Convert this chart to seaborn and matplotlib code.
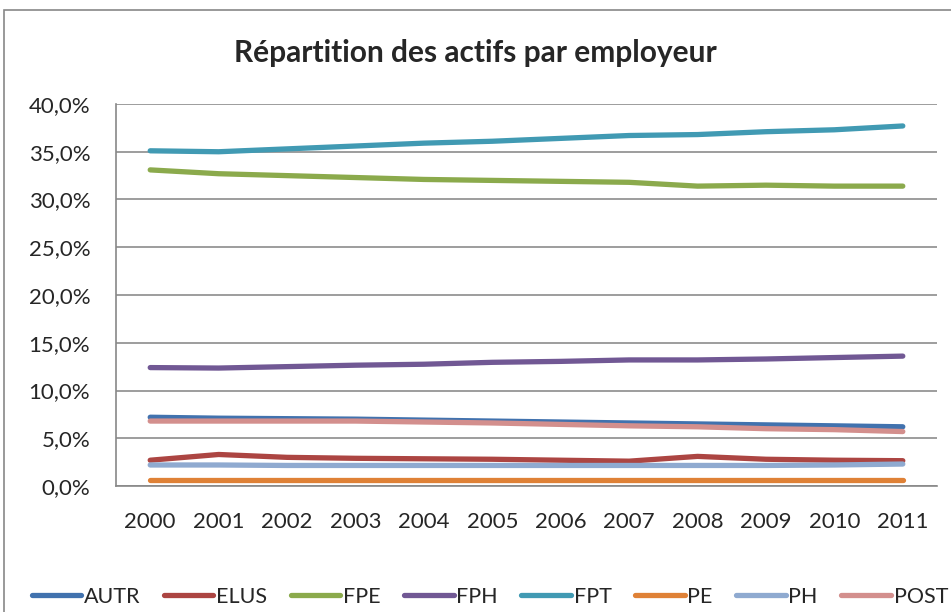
import pandas as pd
import matplotlib.pyplot as plt
import seaborn as sns
from matplotlib.ticker import FuncFormatter, FixedLocator
from matplotlib.patches import Rectangle

# data (share of active workers, %)
years = [2000, 2001, 2002, 2003, 2004, 2005, 2006, 2007, 2008, 2009, 2010, 2011]
autr = [7.2, 7.1, 7.05, 7.0, 6.9, 6.8, 6.7, 6.6, 6.5, 6.4, 6.3, 6.2]
elus = [2.7, 3.3, 3.0, 2.9, 2.85, 2.8, 2.7, 2.6, 3.1, 2.8, 2.7, 2.65]
fpe = [33.1, 32.7, 32.5, 32.3, 32.1, 32.0, 31.9, 31.8, 31.4, 31.5, 31.4, 31.4]
fph = [12.4, 12.35, 12.5, 12.65, 12.75, 12.95, 13.05, 13.2, 13.2, 13.3, 13.45, 13.6]
fpt = [35.1, 35.0, 35.3, 35.6, 35.9, 36.1, 36.4, 36.7, 36.8, 37.1, 37.3, 37.7]
pe = [0.6] * 12
ph = [2.2, 2.2, 2.15, 2.15, 2.15, 2.15, 2.15, 2.15, 2.15, 2.15, 2.2, 2.3]
post = [6.8, 6.8, 6.8, 6.8, 6.7, 6.6, 6.45, 6.3, 6.2, 6.0, 5.9, 5.7]

series = {"AUTR": autr, "ELUS": elus, "FPE": fpe, "FPH": fph,
          "FPT": fpt, "PE": pe, "PH": ph, "POST": post}
colors = {"AUTR": "#4172AE", "ELUS": "#AC4542", "FPE": "#8BAA4C", "FPH": "#715894",
          "FPT": "#419AB3", "PE": "#DF8136", "PH": "#8FAAD0", "POST": "#D38F8D"}

rows = []
for name, vals in series.items():
    for i, v in enumerate(vals):
        rows.append({"pos": i, "year": years[i], "emp": name, "val": v / 100})
df = pd.DataFrame(rows)

sns.set_style("white")
plt.rcParams["font.family"] = ["Lato", "DejaVu Sans"]

fig = plt.figure(figsize=(9.51, 6.12), dpi=100)
ax = fig.add_axes([116 / 951, 1 - 486 / 612, (937 - 116) / 951, (486 - 104) / 612])

sns.lineplot(data=df, x="pos", y="val", hue="emp", palette=colors, ax=ax,
             linewidth=3.8, solid_capstyle="round", legend=False)

ax.set_xlim(-0.5, 11.5)
ax.set_ylim(0, 0.4)
ax.set_yticks([i * 0.05 for i in range(9)])
ax.yaxis.set_major_formatter(FuncFormatter(lambda v, p: f"{v * 100:.1f}%".replace(".", ",")))
ax.set_xticks(range(12))
ax.set_xticklabels([str(y) for y in years])
ax.xaxis.set_minor_locator(FixedLocator([i - 0.5 for i in range(13)]))
ax.tick_params(axis="x", which="major", length=0, labelsize=16, pad=19)
ax.tick_params(axis="x", which="minor", length=6, width=1.2, color="#888888", direction="out")
ax.tick_params(axis="y", length=6.5, width=1.2, color="#888888", direction="out", labelsize=16, pad=12)
ax.grid(axis="y", color="#8c8c8c", linewidth=1.2)
ax.set_axisbelow(True)
ax.set_xlabel("")
ax.set_ylabel("")
for s in ["top", "right"]:
    ax.spines[s].set_visible(False)
for s in ["left", "bottom"]:
    ax.spines[s].set_color("#888888")
    ax.spines[s].set_linewidth(1.2)

fig.text(0.5, 1 - 53 / 612, "Répartition des actifs par employeur",
         ha="center", va="center", fontsize=21.5, fontweight="bold")

# legend
handles = [plt.Line2D([], [], color=colors[n], linewidth=3.8, solid_capstyle="round") for n in series]
fig.legend(handles, list(series.keys()), loc="center", ncol=8, frameon=False,
           bbox_to_anchor=(0.515, 1 - 597 / 612), fontsize=15.5, handlelength=2.3,
           handletextpad=0.12, columnspacing=1.1)

# chart frame
fig.patches.append(Rectangle((4 / 951, -0.1), 1.1, 1 - 10 / 612 + 0.1, transform=fig.transFigure,
                             fill=False, edgecolor="#888888", linewidth=1.2))

fig.savefig("out.png", dpi=100)
